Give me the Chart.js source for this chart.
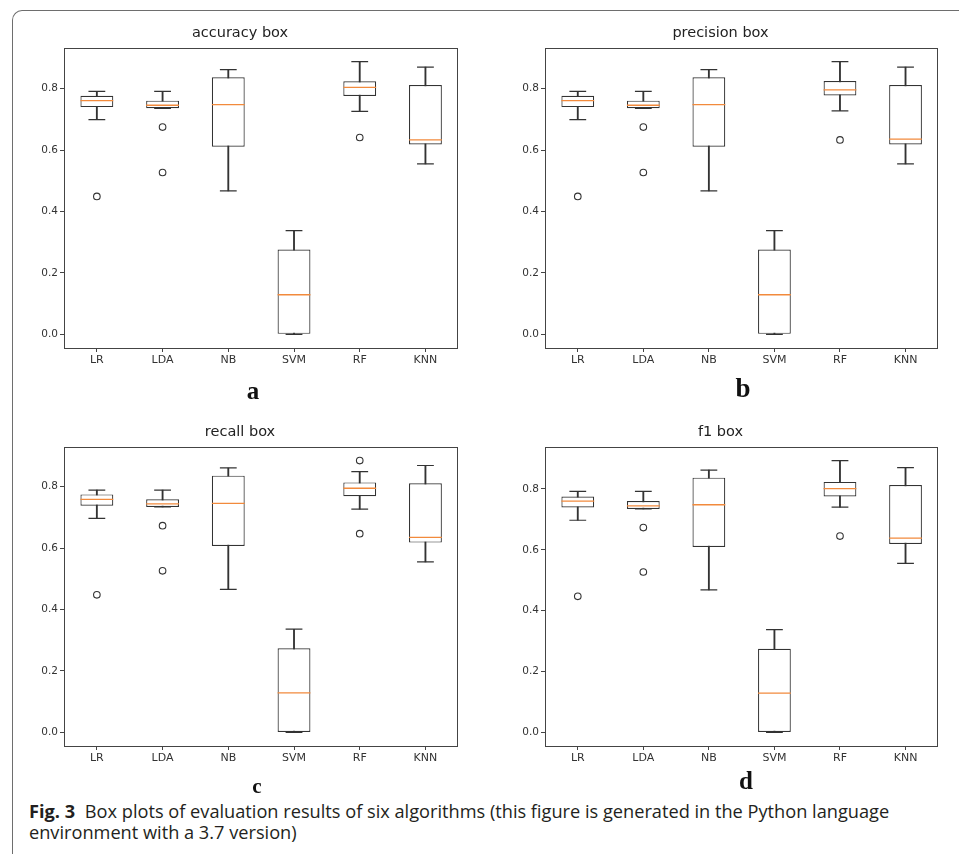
<!DOCTYPE html>
<html>
<head>
<meta charset="utf-8">
<script src="https://cdn.jsdelivr.net/npm/chart.js@4.4.1/dist/chart.umd.min.js"></script>
<style>
    body { margin: 0; background: #fff; width: 959px; height: 854px; overflow: hidden; position: relative; }
    #frame {
        position: absolute; left: 12px; top: 10px; width: 1000px; height: 900px;
        border-left: 1.3px solid #6e6e6e; border-top: 1.3px solid #6e6e6e;
        border-top-left-radius: 10px;
    }
    .panel { position: absolute; }
    .letter {
        position: absolute; width: 60px; text-align: center;
        font-family: "Liberation Serif", serif; font-weight: bold; color: #111; line-height: 1;
    }
    .caption {
        position: absolute; left: 29px; top: 801px;
        font-family: "Open Sans", sans-serif; font-size: 18.2px; line-height: 21px; color: #231f20;
        white-space: nowrap;
    }
    .caption b { margin-right: 5px; }
</style>
</head>
<body>
<div id="frame"></div>

<div class="panel" style="left:14px;top:20px"><canvas id="accuracyChart" width="462" height="360"></canvas></div>
<div class="panel" style="left:495px;top:20px"><canvas id="precisionChart" width="461" height="360"></canvas></div>
<div class="panel" style="left:14px;top:419px"><canvas id="recallChart" width="462" height="359"></canvas></div>
<div class="panel" style="left:495px;top:419px"><canvas id="f1Chart" width="461" height="359"></canvas></div>

<div class="letter" style="left:223px;top:378px;font-size:25px">a</div>
<div class="letter" style="left:713px;top:375px;font-size:27px">b</div>
<div class="letter" style="left:227px;top:776px;font-size:21px">c</div>
<div class="letter" style="left:716px;top:768px;font-size:25px">d</div>

<div class="caption"><b>Fig. 3</b> Box plots of evaluation results of six algorithms (this figure is generated in the Python language<br>environment with a 3.7 version)</div>

<script>
// ========== DATA ==========
const algorithms = ['LR', 'LDA', 'NB', 'SVM', 'RF', 'KNN'];
const yTickValues = [0, 0.2, 0.4, 0.6, 0.8];

// accuracy
const accuracyLow = [0.699, 0.736, 0.467, 0, 0.726, 0.555];
const accuracyQ1 = [0.740, 0.736, 0.611, 0, 0.776, 0.618];
const accuracyMedian = [0.761, 0.746, 0.748, 0.129, 0.804, 0.633];
const accuracyQ3 = [0.777, 0.761, 0.837, 0.276, 0.824, 0.812];
const accuracyHigh = [0.791, 0.791, 0.862, 0.338, 0.888, 0.870];
const accuracyOutliers = [[0.449], [0.675, 0.527], [], [], [0.641], []];

// precision
const precisionLow = [0.699, 0.736, 0.467, 0, 0.728, 0.555];
const precisionQ1 = [0.740, 0.736, 0.611, 0, 0.778, 0.618];
const precisionMedian = [0.761, 0.746, 0.748, 0.129, 0.796, 0.636];
const precisionQ3 = [0.777, 0.761, 0.837, 0.276, 0.825, 0.812];
const precisionHigh = [0.791, 0.791, 0.862, 0.338, 0.888, 0.870];
const precisionOutliers = [[0.449], [0.675, 0.527], [], [], [0.633], []];

// recall
const recallLow = [0.697, 0.734, 0.466, 0, 0.727, 0.555];
const recallQ1 = [0.738, 0.734, 0.607, 0, 0.769, 0.618];
const recallMedian = [0.759, 0.744, 0.746, 0.129, 0.795, 0.635];
const recallQ3 = [0.775, 0.759, 0.836, 0.274, 0.814, 0.811];
const recallHigh = [0.789, 0.789, 0.861, 0.336, 0.849, 0.869];
const recallOutliers = [[0.448], [0.673, 0.526], [], [], [0.885, 0.647], []];

// f1
const f1Low = [0.697, 0.734, 0.468, 0, 0.740, 0.555];
const f1Q1 = [0.739, 0.734, 0.609, 0, 0.775, 0.619];
const f1Median = [0.760, 0.744, 0.748, 0.129, 0.801, 0.638];
const f1Q3 = [0.775, 0.760, 0.837, 0.275, 0.823, 0.813];
const f1High = [0.792, 0.792, 0.862, 0.338, 0.893, 0.870];
const f1Outliers = [[0.447], [0.673, 0.527], [], [], [0.645], []];

const lineColor = '#333';
const medianColor = '#f28a3c';
const tickColor = '#333';

// ========== AXES FRAME (matplotlib spines) ==========
const framePlugin = {
    id: 'frame',
    afterDatasetsDraw(chart) {
        const a = chart.chartArea;
        const ctx = chart.ctx;
        ctx.save();
        ctx.strokeStyle = '#444';
        ctx.lineWidth = 1;
        ctx.strokeRect(Math.round(a.left) + 0.5, Math.round(a.top) + 0.5,
            Math.round(a.right - a.left) - 1, Math.round(a.bottom - a.top));
        ctx.restore();
    }
};

// ========== BUILD ONE BOX CHART ==========
function buildBoxChart(id, title, low, q1, median, q3, high, outliers) {
    const flatOut = outliers.flat();
    const dataMax = Math.max(...high, ...flatOut);
    const dataMin = Math.min(...low, ...flatOut);
    const pad = (dataMax - dataMin) * 0.05;

    const outlierPoints = [];
    outliers.forEach((list, i) => list.forEach(v => outlierPoints.push({ x: algorithms[i], y: v })));

    const capStyle = {
        type: 'line', showLine: false, pointStyle: 'line',
        pointRadius: 8.4, pointHoverRadius: 8.4,
        pointBorderColor: lineColor, pointBorderWidth: 1.2
    };

    new Chart(document.getElementById(id), {
        type: 'bar',
        data: {
            labels: algorithms,
            datasets: [
                {
                    label: 'outliers', type: 'line', showLine: false, data: outlierPoints,
                    pointStyle: 'circle', pointRadius: 3.3, pointHoverRadius: 3.3,
                    pointBorderColor: lineColor, pointBorderWidth: 1.1,
                    pointBackgroundColor: 'rgba(255,255,255,0)', order: 0
                },
                {
                    label: 'median', type: 'line', showLine: false, data: median,
                    pointStyle: 'line', pointRadius: 16.4, pointHoverRadius: 16.4,
                    pointBorderColor: medianColor, pointBorderWidth: 1.3, order: 1
                },
                { label: 'capHigh', data: high, ...capStyle, order: 2 },
                { label: 'capLow', data: low, ...capStyle, order: 2 },
                {
                    label: 'box', data: algorithms.map((_, i) => [q1[i], q3[i]]),
                    backgroundColor: '#fff', borderColor: lineColor, borderWidth: 1.2,
                    borderSkipped: false, barPercentage: 0.5, categoryPercentage: 1,
                    grouped: false, order: 3
                },
                {
                    label: 'whisker', data: algorithms.map((_, i) => [low[i], high[i]]),
                    backgroundColor: lineColor, borderWidth: 0, barThickness: 1.2,
                    grouped: false, order: 4
                }
            ]
        },
        options: {
            responsive: false,
            animation: false,
            events: [],
            layout: { padding: { left: 0, right: 10, top: 0, bottom: 0 } },
            plugins: {
                legend: { display: false },
                tooltip: { enabled: false },
                title: {
                    display: true, text: title, color: '#222',
                    font: { family: 'DejaVu Sans', size: 14.5, weight: 'normal' },
                    padding: { top: 5, bottom: 5.6 }
                }
            },
            scales: {
                x: {
                    offset: true,
                    grid: { display: true, offset: false, drawOnChartArea: false, drawTicks: true, tickLength: 4, color: '#444' },
                    border: { display: false },
                    ticks: { color: tickColor, padding: 2, maxRotation: 0, font: { family: 'DejaVu Sans', size: 11 } },
                    afterFit: s => { s.height = 32; }
                },
                y: {
                    min: dataMin - pad,
                    max: dataMax + pad,
                    grid: { display: true, drawOnChartArea: false, drawTicks: true, tickLength: 4, color: '#444' },
                    border: { display: false },
                    ticks: {
                        color: tickColor, padding: 2,
                        font: { family: 'DejaVu Sans', size: 10.5 },
                        callback: v => v.toFixed(1)
                    },
                    afterBuildTicks: s => { s.ticks = yTickValues.map(v => ({ value: v })); },
                    afterFit: s => { s.width = 50; }
                }
            }
        },
        plugins: [framePlugin]
    });
}

// ========== INIT ==========
buildBoxChart('accuracyChart', 'accuracy box', accuracyLow, accuracyQ1, accuracyMedian, accuracyQ3, accuracyHigh, accuracyOutliers);
buildBoxChart('precisionChart', 'precision box', precisionLow, precisionQ1, precisionMedian, precisionQ3, precisionHigh, precisionOutliers);
buildBoxChart('recallChart', 'recall box', recallLow, recallQ1, recallMedian, recallQ3, recallHigh, recallOutliers);
buildBoxChart('f1Chart', 'f1 box', f1Low, f1Q1, f1Median, f1Q3, f1High, f1Outliers);
</script>
</body>
</html>
